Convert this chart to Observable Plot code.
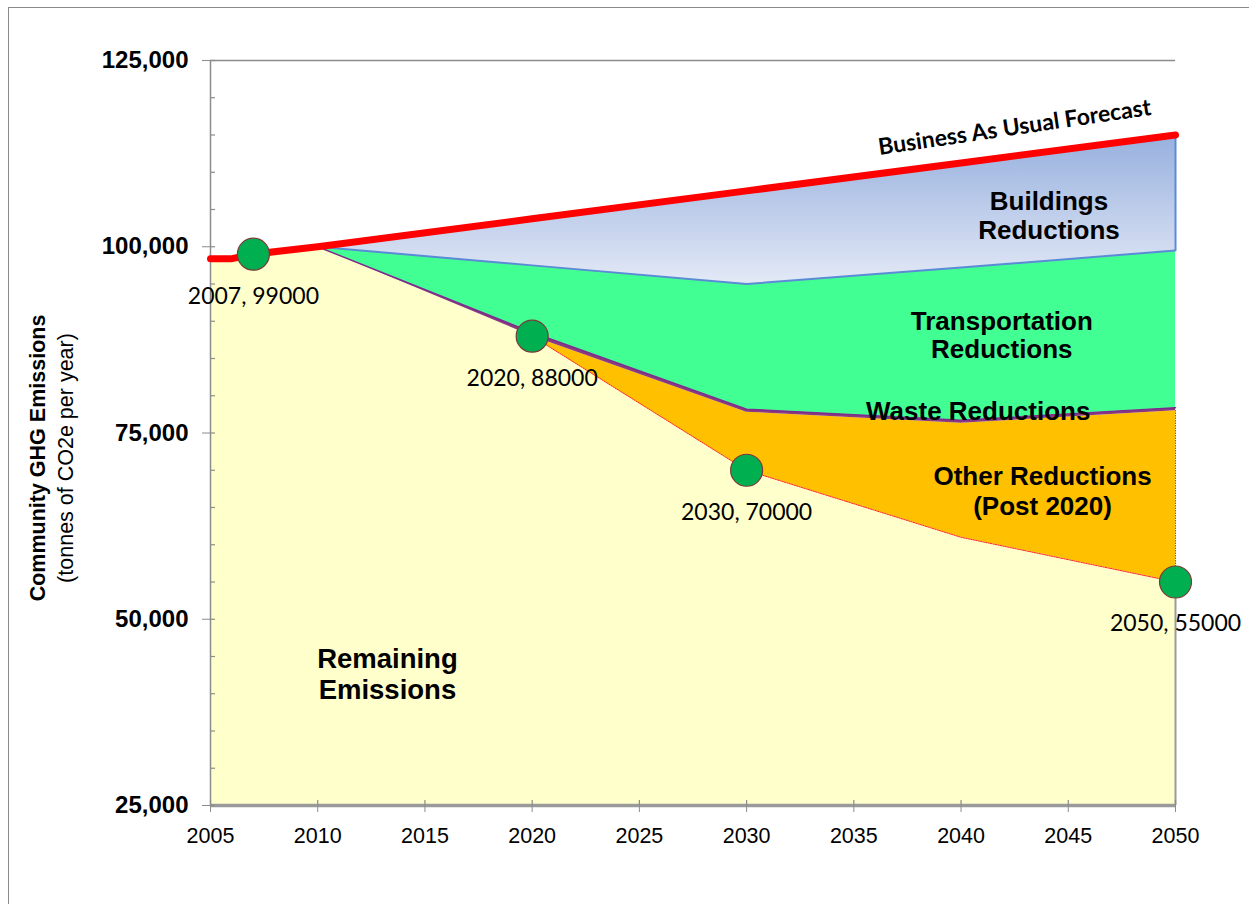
<!DOCTYPE html>
<html>
<head>
<meta charset="utf-8">
<script src="https://cdn.jsdelivr.net/npm/d3@7"></script>
<script src="https://cdn.jsdelivr.net/npm/@observablehq/plot@0.6"></script>
<style>
  html, body { margin: 0; padding: 0; background: #fff; }
  #wrap { position: relative; width: 1249px; height: 904px; overflow: hidden; }
  #border { position: absolute; left: 8px; top: 7px; width: 1400px; height: 1000px;
            border-left: 1.5px solid #8a8a8a; border-top: 1.5px solid #8a8a8a; }
  #chart { position: absolute; left: 0; top: 0; }
</style>
</head>
<body>
<div id="wrap"><div id="border"></div><div id="chart"></div></div>
<script>
// ---- data ----
const years          = [2005, 2006, 2007, 2010, 2020, 2030, 2040, 2050];
const businessAsUsual = [98400, 98400, 99000, 100000, 103750, 107500, 111250, 115000];
const remaining      = [98400, 98400, 99000, 100000, 88000, 70000, 61000, 55000];

const reductionYears = [2010, 2020, 2030, 2040, 2050];
const otherTop       = [100000, 88000, 77800, 76300, 78000];   // remaining + other (post 2020)
const wasteTop       = [100000, 88500, 78200, 76700, 78400];   // + waste
const transportTop   = [100000, 97500, 95000, 97200, 99500];   // + transportation
const bauReduction   = [100000, 103750, 107500, 111250, 115000];
const remainingRed   = [100000, 88000, 70000, 61000, 55000];

const milestoneYears  = [2007, 2020, 2030, 2050];
const milestoneValues = [99000, 88000, 70000, 55000];

const yTicks = [25000, 50000, 75000, 100000, 125000];
const yMinorTicks = d3.range(25000, 125001, 5000);
const xTicks = [2005, 2010, 2015, 2020, 2025, 2030, 2035, 2040, 2045, 2050];

const areaLabels = [
  {text: "Buildings\nReductions", year: 2044.1, value: 104200, lh: 1.1, size: 26},
  {text: "Transportation\nReductions", year: 2041.9, value: 88150, lh: 1.06, size: 26},
  {text: "Other Reductions\n(Post 2020)", year: 2043.8, value: 67300, lh: 1.16, size: 26},
  {text: "Remaining\nEmissions", year: 2013.25, value: 42650, lh: 1.12, size: 27.5}
];
const wasteLabel = [{text: "Waste Reductions", year: 2040.8, value: 77900}];
const bauLabel = [{text: "Business As Usual Forecast", year: 2042.5, value: 116000}];

// ---- tables built from the arrays ----
const main = years.map((y, i) => ({year: y, bau: businessAsUsual[i], remaining: remaining[i]}));
const red = reductionYears.map((y, i) => ({
  year: y, remaining: remainingRed[i], other: otherTop[i], waste: wasteTop[i],
  transport: transportTop[i], bau: bauReduction[i]
}));
const post2020 = red.filter(d => d.year >= 2020);
const milestones = milestoneYears.map((y, i) => ({year: y, value: milestoneValues[i]}));
const last = red[red.length - 1];

const defs = () => {
  const g = d3.create("svg:defs");
  const lg = g.append("linearGradient").attr("id", "bldgGrad")
    .attr("x1", 0).attr("y1", 0).attr("x2", 0).attr("y2", 1);
  lg.append("stop").attr("offset", "0%").attr("stop-color", "#97b0de");
  lg.append("stop").attr("offset", "100%").attr("stop-color", "#e3e9f6");
  return g.node();
};

const chart = Plot.plot({
  width: 1249,
  height: 904,
  marginLeft: 210,
  marginRight: 74,
  marginTop: 60,
  marginBottom: 99,
  style: {fontFamily: "'Liberation Sans', Arial, sans-serif", background: "none", overflow: "visible"},
  x: {domain: [2005, 2050]},
  y: {domain: [25000, 125000]},
  marks: [
    defs,
    // remaining emissions
    Plot.areaY(main, {x: "year", y1: 25000, y2: "remaining", fill: "#ffffcc"}),
    // other reductions
    Plot.areaY(post2020, {x: "year", y1: "remaining", y2: "other", fill: "#ffc000"}),
    // waste band
    Plot.areaY(red, {x: "year", y1: "other", y2: "waste", fill: "#8b3a7f"}),
    // transportation
    Plot.areaY(red, {x: "year", y1: "waste", y2: "transport", fill: "#42ff93"}),
    // buildings
    Plot.areaY(red, {x: "year", y1: "transport", y2: "bau", fill: "url(#bldgGrad)"}),
    // boundary lines
    Plot.lineY(red, {x: "year", y: "waste", stroke: "#7a2d8c", strokeWidth: 1.5}),
    Plot.lineY(red, {x: "year", y: "transport", stroke: "#5b8bd6", strokeWidth: 2}),
    Plot.ruleX([last], {x: "year", y1: "transport", y2: "bau", stroke: "#5b8bd6", strokeWidth: 2}),
    Plot.lineY(post2020, {x: "year", y: "remaining", stroke: "#ff2020", strokeWidth: 1, strokeDasharray: "1.5,1"}),
    Plot.ruleX([last], {x: "year", y1: "remaining", y2: "other", stroke: "#ff2020", strokeWidth: 1, strokeDasharray: "1.5,1"}),
    // frame pieces
    Plot.ruleY([125000], {stroke: "#8c8c8c", strokeWidth: 1.5}),
    Plot.ruleX([last], {x: "year", y1: 25000, y2: "remaining", stroke: "#9a9a9a", strokeWidth: 2}),
    Plot.ruleX([2005], {stroke: "#8c8c8c", strokeWidth: 1.5}),
    Plot.ruleY([25000], {stroke: "#9a9a9a", strokeWidth: 3.5}),
    // axes
    Plot.axisY(yTicks, {tickSize: 8, tickPadding: 14, stroke: "#8c8c8c", fontSize: 24, fontWeight: "bold",
      fill: "#000", tickFormat: d3.format(","), label: null}),
    Plot.tickY(yMinorTicks, {y: d => d, insetRight: 960, stroke: "#8c8c8c", strokeWidth: 1.2}),
    Plot.axisX(xTicks, {tickSize: 7, tickPadding: 15, stroke: "#8c8c8c", fontSize: 21.5, fill: "#000",
      tickFormat: d => String(d), label: null}),
    Plot.tickX(xTicks, {x: d => d, insetTop: 740, stroke: "#8c8c8c", strokeWidth: 1.2}),
    // business as usual
    Plot.lineY(main, {x: "year", y: "bau", stroke: "#ff0000", strokeWidth: 7, strokeLinejoin: "round"}),
    // milestone points
    Plot.dot(milestones, {x: "year", y: "value", r: 16, fill: "#00b050", stroke: "#7b3b3b", strokeWidth: 1.2}),
    Plot.text(milestones, {x: "year", y: "value", text: d => `${d.year}, ${d.value}`, dy: 42,
      fontSize: 23, fontFamily: "Lato, 'Open Sans', sans-serif", fill: "#000"}),
    // area labels
    ...areaLabels.map(l => Plot.text([l], {x: "year", y: "value", text: "text", lineHeight: l.lh,
      fontSize: l.size, fontWeight: "bold", fill: "#000"})),
    Plot.text(wasteLabel, {x: "year", y: "value", text: "text", fontSize: 26, fontWeight: "bold", fill: "#000"}),
    Plot.text(bauLabel, {x: "year", y: "value", text: "text", rotate: -8.4, fontSize: 23, fontWeight: "bold",
      fontFamily: "Lato, 'Open Sans', sans-serif", fill: "#000"}),
    // y axis title
    Plot.text(["Community GHG Emissions"], {frameAnchor: "left", textAnchor: "middle", text: d => d, rotate: -90,
      dx: -172, dy: 25, fontSize: 21.5, fontWeight: "bold", fill: "#000"}),
    Plot.text(["(tonnes of CO2e per year)"], {frameAnchor: "left", textAnchor: "middle", text: d => d, rotate: -90,
      dx: -144, dy: 25, fontSize: 21.5, fill: "#000"})
  ]
});
document.getElementById("chart").appendChild(chart);
</script>
</body>
</html>
